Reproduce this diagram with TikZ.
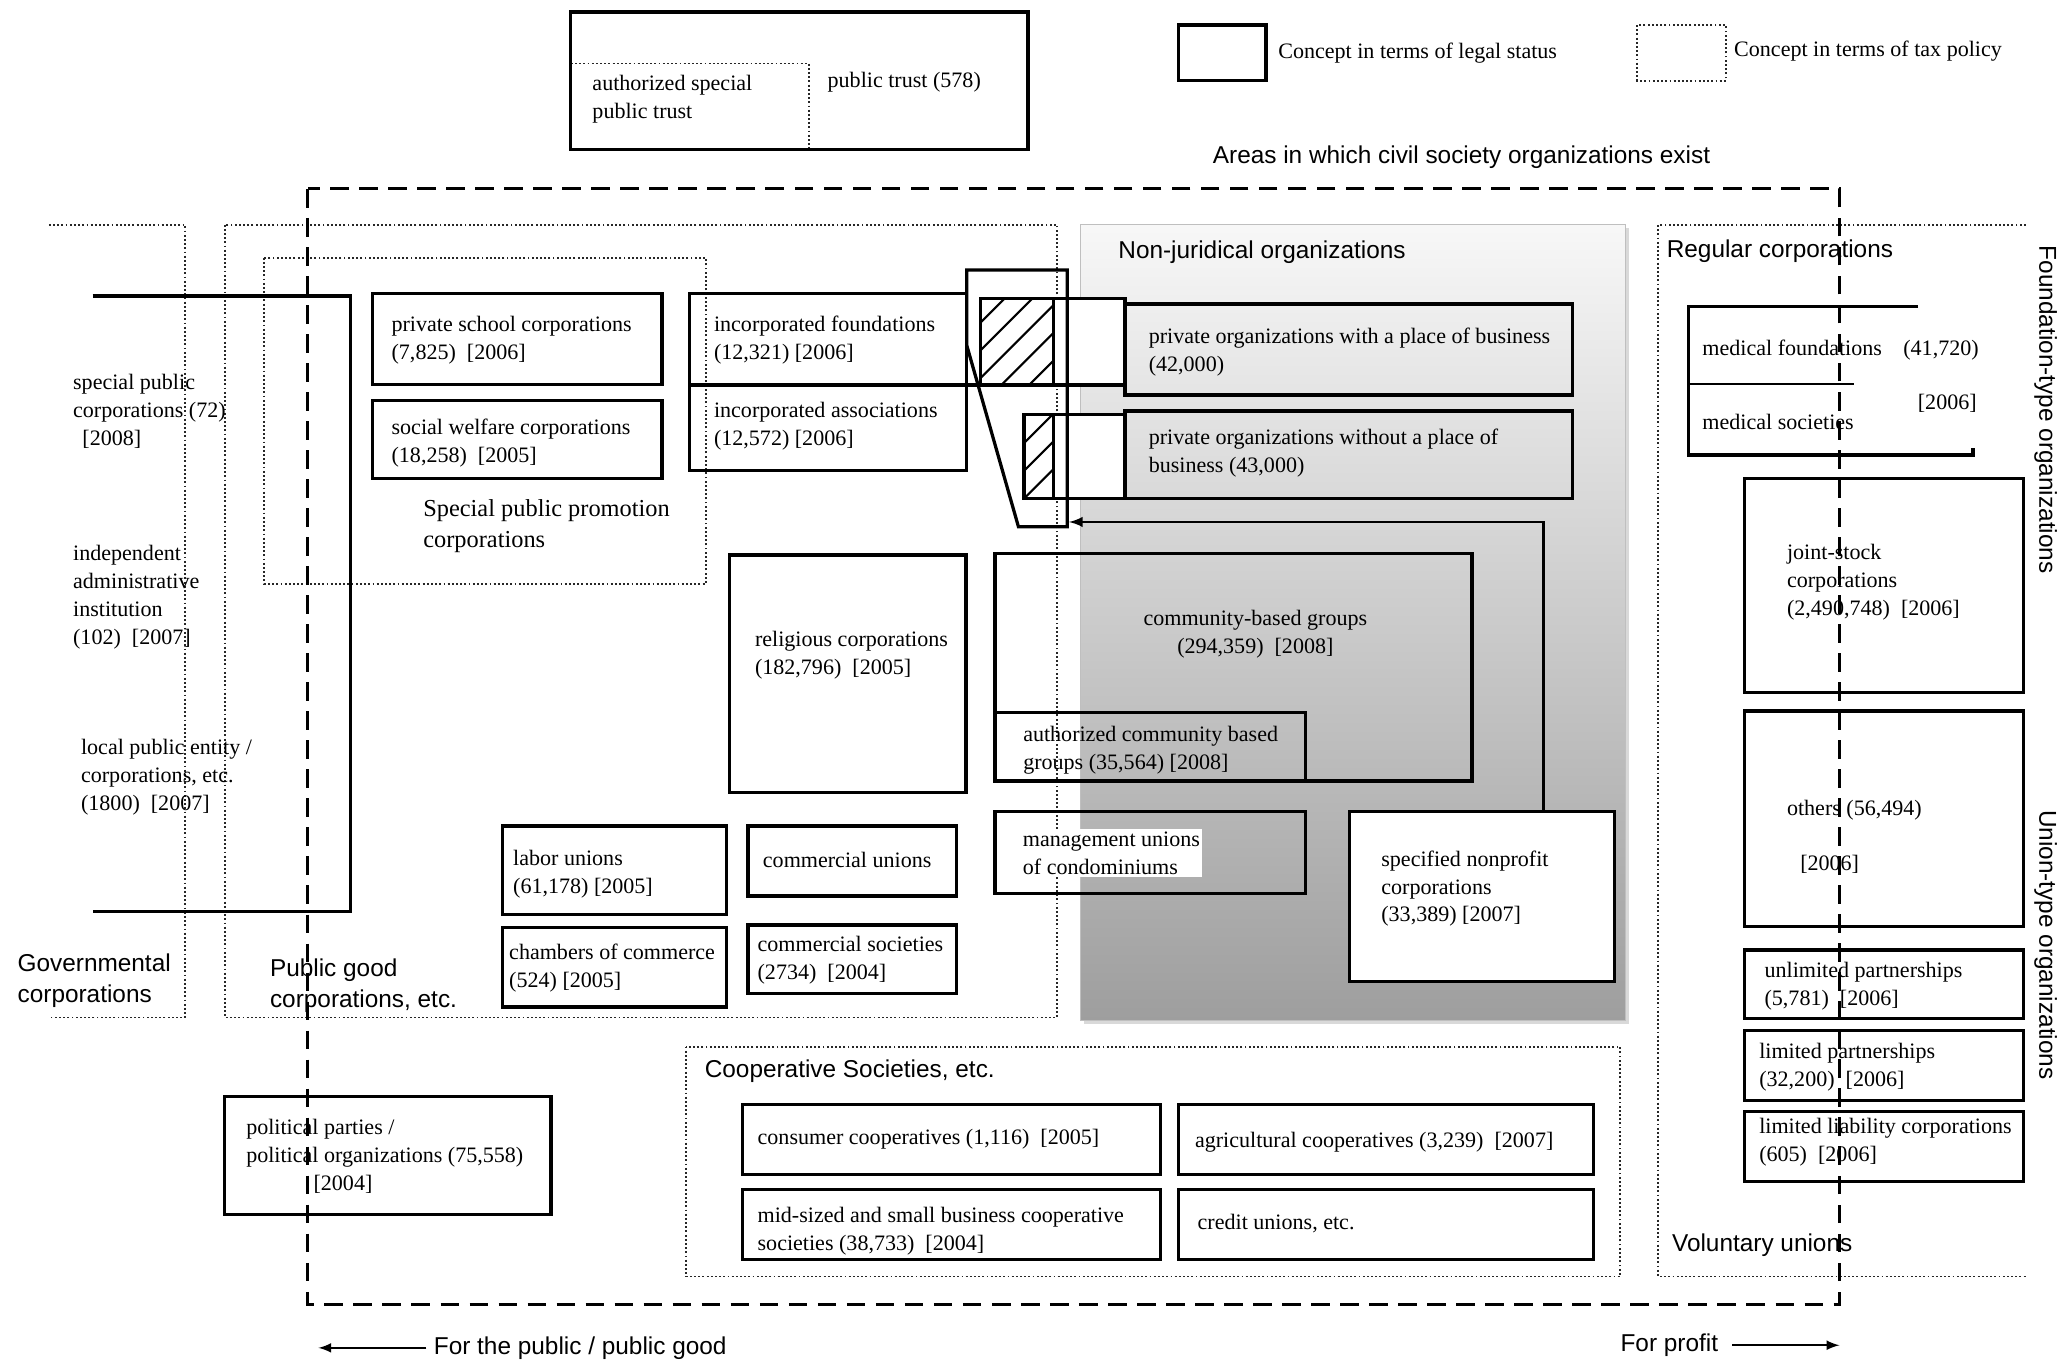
\documentclass[tikz,border=0pt]{standalone}
\usepackage{fontspec}
\setmainfont{Liberation Serif}
\setsansfont{Liberation Sans}
\usetikzlibrary{shadows}

\newcommand{\bxfont}{\fontsize{9.5}{12}\selectfont}
\newcommand{\lbfont}{\fontsize{10.5}{13.6}\selectfont\sffamily}

\begin{document}
\begin{tikzpicture}[
        x = 0.02cm, y = -0.02cm,
        legal/.style = {draw, line width=1.4pt},
        taxline/.style = {draw, line width=0.8pt, densely dotted, black!85},
        area/.style = {draw, line width=1.3pt, dash pattern=on 8pt off 4.5pt},
        hatch/.style = {line width=0.9pt},
        txt/.style = {font=\bxfont, align=left, anchor=west, inner sep=0pt},
        lbl/.style = {font=\lbfont, align=left, anchor=west, inner sep=0pt}
    ]
        \useasboundingbox (0,0) rectangle (1568,1031);

        % non-juridical area
        \path[top color=black!3, bottom color=black!38, draw=black!25,
              drop shadow={opacity=0.3, shadow xshift=1.5pt, shadow yshift=-1.5pt}]
            (818,170) rectangle (1230,772);

        % tax policy concepts
        \draw[taxline] (37,170) -- (140,170) -- (140,770) -- (37,770);
        \draw[taxline] (170,170) rectangle (800,770);
        \draw[taxline] (200,195) rectangle (534,442);
        \draw[taxline] (519,792) rectangle (1226,966);
        \draw[taxline] (1533,170) -- (1255,170) -- (1255,966) -- (1533,966);
        \draw[taxline] (432,48) -- (612,48) -- (612,113);
        \draw[taxline] (1239,19) rectangle (1306,61);

        % legal status concepts
        \draw[legal] (432,9) rectangle (778,113);
        \draw[legal] (892,19) rectangle (958,61);
        \draw[legal] (70,224) -- (265,224) -- (265,690) -- (70,690);
        \draw[legal] (282,222) rectangle (501,291);
        \draw[legal] (282,303) rectangle (501,362);
        \draw[legal] (522,222) rectangle (731.5,356);
        \draw[legal] (522,291.4) -- (742.2,291.4);
        \draw[legal, fill=white] (742.2,225.8) rectangle (851.4,291.4);
        \draw[legal, fill=white] (775,313.6) rectangle (851.4,377.1);
        \draw[legal] (797.1,225.8) -- (797.1,291.4);
        \draw[legal] (797.1,313.6) -- (797.1,377.1);
        \draw[legal] (731.5,204.3) -- (807.7,204.3) -- (807.7,398.6) -- (770.7,398.6) -- (731.5,261) -- cycle;
        \draw[legal] (851.4,230) rectangle (1190,299);
        \draw[legal] (851.4,311) rectangle (1190,377.1);
        \draw[legal] (552,420) rectangle (731,600);
        \draw[legal] (753,419) rectangle (1114,591);
        \draw[legal] (753,539) rectangle (988,591);
        \draw[legal] (753,614) rectangle (988,676);
        \draw[legal] (380,625) rectangle (550,692);
        \draw[legal] (566,625) rectangle (724,678);
        \draw[legal] (380,702) rectangle (550,762);
        \draw[legal] (566,700) rectangle (724,752);
        \draw[legal] (562,836) rectangle (878,889);
        \draw[legal] (892,836) rectangle (1206,889);
        \draw[legal] (562,900) rectangle (878,953);
        \draw[legal] (892,900) rectangle (1206,953);
        \draw[legal] (170,830) rectangle (417,919);
        \draw[legal] (1451.5,232) -- (1277.5,232) -- (1277.5,344.4) -- (1493,344.4) -- (1493,339);
        \draw[line width=0.9pt] (1277.5,290.6) -- (1403,290.6);
        \draw[legal] (1320,362) rectangle (1531,524);
        \draw[legal] (1320,538) rectangle (1531,701);
        \draw[legal] (1320,719) rectangle (1531,771);
        \draw[legal] (1320,780) rectangle (1531,833);
        \draw[legal] (1320,841) rectangle (1531,894);
        \node[legal, fill=white, minimum width=4.02cm, minimum height=2.58cm, inner sep=0pt]
            (spec) at (1121.5,678.5) {};

        % hatching
        \begin{scope}
            \clip (742.2,225.8) rectangle (797.1,291.4);
            \foreach \k in {-4,...,4}
                \draw[hatch] ({769.6+(\k)*21-45},303.6) -- ++(90,-90);
        \end{scope}
        \begin{scope}
            \clip (775,313.6) rectangle (797.1,377.1);
            \foreach \k in {-3,...,3}
                \draw[hatch] ({786+(\k)*21-45},390.3) -- ++(90,-90);
        \end{scope}

        % arrow into the hatched block
        \coordinate (specTop) at ([xshift=0.93cm]spec.north);
        \coordinate (hatchE) at (809,395);
        \draw[line width=1pt, -latex] (specTop) |- (hatchE);

        % legend and headings
        \node[txt] (asp) at (448,75) {authorized special\\public trust};
        \node[txt] (ptrust) at (626,62) {public trust (578)};
        \node[txt] (legLegal) at (967,40) {Concept in terms of legal status};
        \node[txt] (legTax) at (1312,39) {Concept in terms of tax policy};
        \node[lbl, anchor=center] (areas) at (1106,119) {Areas in which civil society organizations exist};

        % governmental corporations
        \node[txt] (spc) at (55,311) {special public\\corporations (72)\\\hspace*{4pt}[2008]};
        \node[txt] (iai) at (55,452) {independent\\administrative\\institution\\(102)\ \ [2007]};
        \node[txt] (lpe) at (61,588) {local public entity /\\corporations, etc.\\(1800)\ \ [2007]};
        \node[lbl] (gov) at (13,742) {Governmental\\corporations};

        % public good corporations
        \node[txt] (school) at (296,257.5) {private school corporations\\(7,825)\ \ [2006]};
        \node[txt] (welfare) at (296,335) {social welfare corporations\\(18,258)\ \ [2005]};
        \node[font=\fontsize{10.5}{13.6}\selectfont, align=left, anchor=west, inner sep=0pt]
            (sppc) at (320,398) {Special public promotion\\corporations};
        \node[txt] (found) at (540,257.5) {incorporated foundations\\(12,321)\ [2006]};
        \node[txt] (assoc) at (540,322.5) {incorporated associations\\(12,572)\ [2006]};
        \node[txt] (relig) at (571,495.5) {religious corporations\\(182,796)\ \ [2005]};
        \node[txt] (labor) at (388,661.5) {labor unions\\(61,178)\ [2005]};
        \node[txt] (cunion) at (577,651) {commercial unions};
        \node[txt] (chamber) at (385,732.5) {chambers of commerce\\(524)\ [2005]};
        \node[txt] (csoc) at (573,726.5) {commercial societies\\(2734)\ \ [2004]};
        \node[lbl] (pgc) at (204,746) {Public good\\corporations, etc.};
        \node[txt] (polit) at (186,875) {political parties /\\political organizations (75,558)\\\hspace*{29pt}[2004]};

        % non-juridical organizations
        \node[lbl] (nonjur) at (846,191) {Non-juridical organizations};
        \node[txt] (withpl) at (869,266.5) {private organizations with a place of business\\(42,000)};
        \node[txt] (nopl) at (869,343) {private organizations without a place of\\business (43,000)};
        \node[txt, align=center, anchor=center] (cbg) at (950,480) {community-based groups\\(294,359)\ \ [2008]};
        \node[txt] (acbg) at (774,567.5) {authorized community based\\groups (35,564)\ [2008]};
        \node[txt, fill=white, inner sep=1pt] (condo) at (772,645.5) {management unions\\of condominiums};
        \node[txt] (npo) at (1045,672.5) {specified nonprofit\\corporations\\(33,389)\ [2007]};

        % cooperative societies
        \node[lbl] (coop) at (533,811) {Cooperative Societies, etc.};
        \node[txt] (consumer) at (573,862) {consumer cooperatives (1,116)\ \ [2005]};
        \node[txt] (agri) at (904,864) {agricultural cooperatives (3,239)\ \ [2007]};
        \node[txt] (smb) at (573,931.5) {mid-sized and small business cooperative\\societies (38,733)\ \ [2004]};
        \node[txt] (credit) at (906,926) {credit unions, etc.};

        % regular corporations
        \node[lbl] (regular) at (1261,190) {Regular corporations};
        \node[txt] (medf) at (1288,263.5) {medical foundations};
        \node[txt] (medfn) at (1440,265) {(41,720)};
        \node[txt] (medy) at (1451,305) {[2006]};
        \node[txt] (meds) at (1288,319) {medical societies};
        \node[txt] (jsc) at (1352,440.5) {joint-stock\\corporations\\(2,490,748)\ \ [2006]};
        \node[txt] (others) at (1352,613) {others (56,494)};
        \node[txt] (othy) at (1362,654) {[2006]};
        \node[txt] (unltd) at (1335,746.5) {unlimited partnerships\\(5,781)\ \ [2006]};
        \node[txt] (ltd) at (1331,807.5) {limited partnerships\\(32,200)\ \ [2006]};
        \node[txt] (llc) at (1331,864.5) {limited liability corporations\\(605)\ \ [2006]};
        \node[lbl] (volunt) at (1265,942) {Voluntary unions};
        \node[lbl, anchor=center, rotate=-90] (ftype) at (1548,310) {Foundation-type organizations};
        \node[lbl, anchor=center, rotate=-90] (utype) at (1548,715) {Union-type organizations};

        % areas in which civil society organizations exist
        \draw[area] (233,143) rectangle (1392,987);

        % direction arrows
        \node[lbl] (pub) at (328,1020) {For the public / public good};
        \coordinate (pubEnd) at (241,1020);
        \draw[line width=0.9pt, -latex] ([xshift=-3pt]pub.west) -- (pubEnd);
        \node[lbl] (prof) at (1226,1018) {For profit};
        \coordinate (profEnd) at (1392,1018);
        \draw[line width=0.9pt, -latex] ([xshift=6pt]prof.east) -- (profEnd);
    \end{tikzpicture}
\end{document}
